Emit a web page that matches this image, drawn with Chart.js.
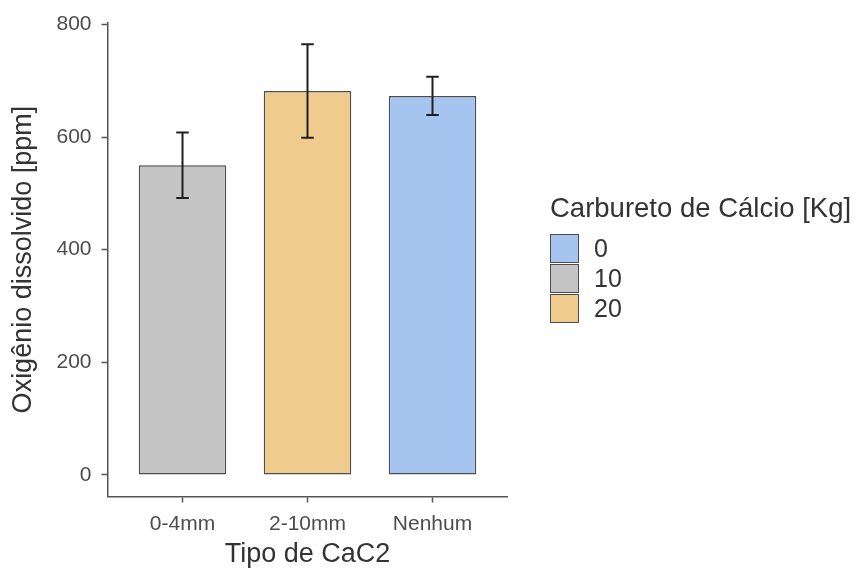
<!DOCTYPE html>
<html lang="pt">
<head>
<meta charset="utf-8">
<title>Oxigênio dissolvido por tipo de CaC2</title>
<script src="https://cdn.jsdelivr.net/npm/chart.js@4/dist/chart.umd.min.js"></script>
<style>
  html, body { margin: 0; padding: 0; background: #ffffff; }
  #wrap { position: relative; width: 856px; height: 577px; }
  #legend {
    position: absolute; left: 550px; top: 192px;
    font-family: 'Liberation Sans', Arial, sans-serif; color: #333333;
  }
  #legend .title { font-size: 27.5px; line-height: 32px; white-space: nowrap; margin-bottom: 9px; }
  #legend .row { display: flex; align-items: center; height: 30px; }
  #legend .swatch { box-sizing: border-box; width: 29px; height: 29px; border: 1.5px solid #4d4d4d; }
  #legend .label { font-size: 25px; line-height: 30px; margin-left: 15px; color: #333333; }
</style>
</head>
<body>
<div id="wrap">
  <canvas id="chart" width="856" height="577"></canvas>
  <div id="legend"></div>
</div>
<script>
// Particle size classes of calcium carbide (x axis)
const categories = ['0-4mm', '2-10mm', 'Nenhum'];
// Calcium carbide dose [Kg] applied in each class
const doseOfCategory = ['10', '20', '0'];
// Mean dissolved oxygen [ppm] and its error (± half-width)
const means = [550, 682, 673];
const errors = [58, 83, 34];
// Legend groups (dose, Kg) and their fills
const doses = ['0', '10', '20'];
const doseColors = ['#a5c4f0', '#c4c4c4', '#efcc8d'];
// Y axis tick values
const yTicks = [0, 200, 400, 600, 800];

const FONT = "'Liberation Sans', Arial, sans-serif";
const AXIS = '#555555';

// ggplot-like continuous expansion (5% each side of the data range)
const dataTop = Math.max(...means.map((m, i) => m + errors[i]));
const yMin = -0.05 * dataTop;
const yMax = dataTop * 1.05;

const datasets = doses.map((d, k) => ({
  label: d,
  data: categories
    .map((c, i) => ({ x: i + 1, y: means[i], dose: doseOfCategory[i] }))
    .filter(p => p.dose === d),
  backgroundColor: doseColors[k],
  borderColor: '#4d4d4d',
  borderWidth: 1.5,
  borderSkipped: false,
  grouped: false,
  barPercentage: 0.7,
  categoryPercentage: 1.0
}));

// Error bars drawn from the means/errors arrays through the chart scales
const errorBars = {
  id: 'errorBars',
  afterDatasetsDraw(chart) {
    const { ctx, scales: { x, y } } = chart;
    ctx.save();
    ctx.strokeStyle = '#1f1f1f';
    ctx.lineWidth = 2;
    means.forEach((m, i) => {
      const cx = x.getPixelForValue(i + 1);
      const x0 = x.getPixelForValue(i + 1 - 0.05);
      const x1 = x.getPixelForValue(i + 1 + 0.05);
      const yHi = y.getPixelForValue(m + errors[i]);
      const yLo = y.getPixelForValue(m - errors[i]);
      ctx.beginPath();
      ctx.moveTo(cx, yHi); ctx.lineTo(cx, yLo);
      ctx.moveTo(x0, yHi); ctx.lineTo(x1, yHi);
      ctx.moveTo(x0, yLo); ctx.lineTo(x1, yLo);
      ctx.stroke();
    });
    ctx.restore();
  }
};

new Chart(document.getElementById('chart'), {
  type: 'bar',
  data: { datasets },
  plugins: [errorBars],
  options: {
    responsive: false,
    animation: false,
    layout: { padding: { top: 19, right: 348.5, bottom: 0, left: 0 } },
    plugins: { legend: { display: false }, tooltip: { enabled: false } },
    scales: {
      x: {
        type: 'linear',
        offset: false,
        min: 0.4,
        max: 3.6,
        afterBuildTicks: s => { s.ticks = categories.map((c, i) => ({ value: i + 1 })); },
        afterFit: s => { s.height = 80.5; },
        ticks: {
          callback: v => categories[Math.round(v) - 1],
          color: '#4d4d4d',
          font: { family: FONT, size: 21 },
          padding: 9,
          maxRotation: 0,
          autoSkip: false
        },
        grid: { offset: false, drawOnChartArea: false, drawTicks: true, tickLength: 6, tickColor: AXIS, tickWidth: 1.5 },
        border: { display: true, color: AXIS, width: 1.5 },
        title: {
          display: true, text: 'Tipo de CaC2', color: '#333333',
          font: { family: FONT, size: 27 }, padding: { top: 0, bottom: 6 }
        }
      },
      y: {
        min: yMin,
        max: yMax,
        afterBuildTicks: s => { s.ticks = yTicks.map(v => ({ value: v })); },
        afterFit: s => { s.width = 107.5; },
        ticks: {
          color: '#4d4d4d',
          font: { family: FONT, size: 21 },
          padding: 10
        },
        grid: { drawOnChartArea: false, drawTicks: true, tickLength: 6, tickColor: AXIS, tickWidth: 1.5 },
        border: { display: true, color: AXIS, width: 1.5 },
        title: {
          display: true, text: 'Oxigênio dissolvido [ppm]', color: '#333333',
          font: { family: FONT, size: 27 }, padding: { top: 7, bottom: 0 }
        }
      }
    }
  }
});

// Legend for the dose fill
const legend = document.getElementById('legend');
const lt = document.createElement('div');
lt.className = 'title';
lt.textContent = 'Carbureto de Cálcio [Kg]';
legend.appendChild(lt);
doses.forEach((d, k) => {
  const row = document.createElement('div');
  row.className = 'row';
  const sw = document.createElement('div');
  sw.className = 'swatch';
  sw.style.background = doseColors[k];
  const lb = document.createElement('span');
  lb.className = 'label';
  lb.textContent = d;
  row.appendChild(sw);
  row.appendChild(lb);
  legend.appendChild(row);
});
</script>
</body>
</html>
